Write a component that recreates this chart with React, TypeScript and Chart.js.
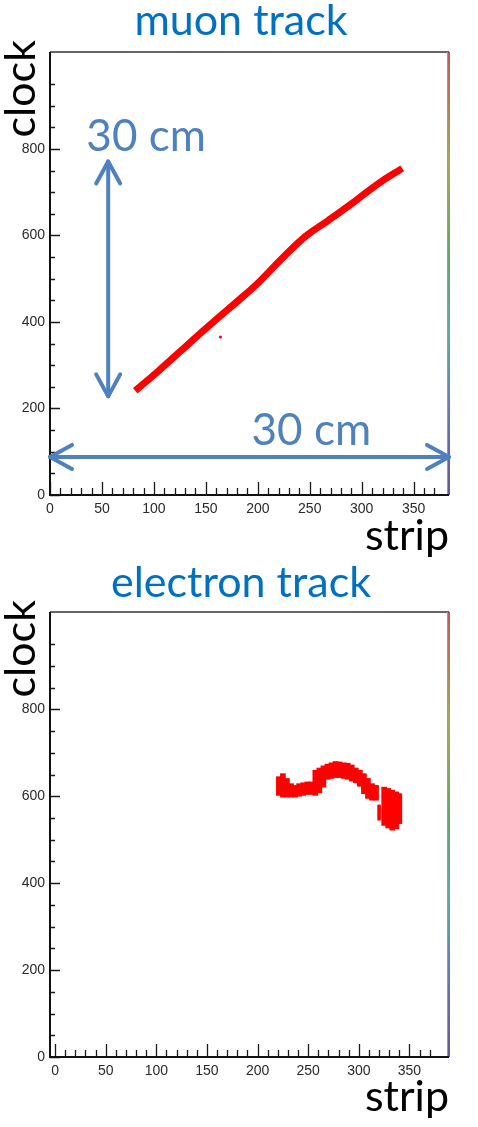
import React, { useEffect, useRef } from 'react';
import { Chart, registerables } from 'chart.js';

Chart.register(...registerables);

// ---- axis ranges and tick steps ----
const STRIP_MIN = 0;
const STRIP_MAX = 384;
const CLOCK_MIN = 0;
const CLOCK_MAX = 1024;
const STRIP_TICK_STEP = 10;
const STRIP_LABEL_STEP = 50;
const CLOCK_TICK_STEP = 50;
const CLOCK_LABEL_STEP = 200;
const CLOCK_LABEL_MAX = 800;
const X_TITLE = 'strip';
const Y_TITLE = 'clock';

// ---- muon track ----
const muonStrip = [82, 104, 124, 143, 162, 181, 201, 223, 246, 268, 294, 316, 339];
const muonClock = [241, 286, 329, 370, 410, 449, 492, 546, 598, 635, 680, 720, 755];
const muonStrayStrip = [164];
const muonStrayClock = [365];

// ---- electron track (strip bins with clock ranges) ----
const electronStrip = [221, 225, 229, 233, 237, 241, 245, 249, 253, 257, 261, 265, 269, 273, 277, 281, 285, 289, 293, 297, 301, 305, 309, 313, 317, 325, 329, 333, 337, 340];
const electronLow = [602, 598, 598, 598, 598, 600, 602, 604, 604, 602, 608, 621, 639, 641, 643, 643, 641, 639, 635, 631, 623, 606, 595, 591, 591, 533, 527, 522, 525, 537];
const electronHigh = [645, 652, 641, 629, 625, 629, 631, 633, 633, 660, 665, 670, 674, 677, 680, 679, 677, 676, 672, 665, 660, 652, 641, 629, 625, 621, 618, 614, 610, 606];
const electronFragStrip = [320];
const electronFragLow = [545];
const electronFragHigh = [580];

// ---- annotations on the muon panel (data units) ----
const arrowStrip = [
  [56, 56],
  [STRIP_MIN, STRIP_MAX],
];
const arrowClock = [
  [228, 771],
  [88, 88],
];
const spanLabelText = ['30 cm', '30 cm'];
const spanLabelStrip = [35, 194];
const spanLabelClock = [795, 116];

const TRACK_RED = '#FF0000';
const ARROW_BLUE = '#4F81BD';
const TITLE_BLUE = '#0070C0';
const BIG_FONT = 'Lato';
const BIG_SIZE = 43;

const rootAxesPlugin = {
  id: 'rootAxes',
  afterDatasetsDraw(chart: any) {
    const { ctx, chartArea, scales } = chart;
    const { left, right, top, bottom } = chartArea;
    const x = scales.x;
    const y = scales.y;
    ctx.save();
    ctx.strokeStyle = '#1a1a1a';
    ctx.lineWidth = 1.3;
    ctx.beginPath();
    for (const t of x.ticks) {
      if (t.value % STRIP_TICK_STEP !== 0) continue;
      const px = Math.round(x.getPixelForValue(t.value)) + 0.5;
      const len = t.value % STRIP_LABEL_STEP === 0 ? 13 : 7;
      ctx.moveTo(px, bottom);
      ctx.lineTo(px, bottom - len);
    }
    for (const t of y.ticks) {
      if (t.value % CLOCK_TICK_STEP !== 0) continue;
      const py = Math.round(y.getPixelForValue(t.value)) + 0.5;
      const len = t.value % CLOCK_LABEL_STEP === 0 ? 10 : 5;
      ctx.moveTo(left, py);
      ctx.lineTo(left + len, py);
    }
    ctx.stroke();

    ctx.strokeStyle = '#333';
    ctx.lineWidth = 1.5;
    ctx.beginPath();
    ctx.moveTo(left, top);
    ctx.lineTo(right, top);
    ctx.stroke();
    ctx.strokeStyle = '#999';
    ctx.lineWidth = 1;
    ctx.beginPath();
    ctx.moveTo(right - 1.5, top);
    ctx.lineTo(right - 1.5, bottom);
    ctx.stroke();
    ctx.strokeStyle = '#111';
    ctx.lineWidth = 2;
    ctx.beginPath();
    ctx.moveTo(left, top);
    ctx.lineTo(left, bottom);
    ctx.lineTo(right, bottom);
    ctx.stroke();
    const g = ctx.createLinearGradient(0, top, 0, bottom);
    g.addColorStop(0, '#B02020');
    g.addColorStop(0.25, '#8A8A20');
    g.addColorStop(0.45, '#2E8B2E');
    g.addColorStop(0.65, '#2A8A8A');
    g.addColorStop(0.85, '#3040A0');
    g.addColorStop(1, '#302070');
    ctx.strokeStyle = g;
    ctx.lineWidth = 1.5;
    ctx.beginPath();
    ctx.moveTo(right, top);
    ctx.lineTo(right, bottom);
    ctx.stroke();

    // vertical axis title, rotated, ending a little above the frame
    ctx.fillStyle = '#000';
    ctx.font = `${BIG_SIZE}px ${BIG_FONT}`;
    ctx.textAlign = 'right';
    ctx.textBaseline = 'middle';
    ctx.translate(scales.y.left + BIG_SIZE / 2, top - 12);
    ctx.rotate(-Math.PI / 2);
    ctx.fillText(Y_TITLE, 0, 0);
    ctx.restore();
  },
};

function drawHead(ctx: CanvasRenderingContext2D, tx: number, ty: number, ux: number, uy: number) {
  const L = 22;
  const W = 12;
  const nx = -uy;
  const ny = ux;
  ctx.beginPath();
  ctx.moveTo(tx + ux * L + nx * W, ty + uy * L + ny * W);
  ctx.lineTo(tx, ty);
  ctx.lineTo(tx + ux * L - nx * W, ty + uy * L - ny * W);
  ctx.stroke();
}

const spanAnnotationPlugin = {
  id: 'spanAnnotations',
  afterDatasetsDraw(chart: any) {
    const { ctx, scales } = chart;
    const x = scales.x;
    const y = scales.y;
    ctx.save();
    ctx.strokeStyle = ARROW_BLUE;
    ctx.fillStyle = ARROW_BLUE;
    ctx.lineWidth = 4;
    ctx.lineCap = 'round';
    ctx.lineJoin = 'round';
    for (let i = 0; i < arrowStrip.length; i++) {
      const x0 = x.getPixelForValue(arrowStrip[i][0]);
      const x1 = x.getPixelForValue(arrowStrip[i][1]);
      const y0 = y.getPixelForValue(arrowClock[i][0]);
      const y1 = y.getPixelForValue(arrowClock[i][1]);
      const len = Math.hypot(x1 - x0, y1 - y0);
      const ux = (x1 - x0) / len;
      const uy = (y1 - y0) / len;
      ctx.beginPath();
      ctx.moveTo(x0, y0);
      ctx.lineTo(x1, y1);
      ctx.stroke();
      drawHead(ctx, x0, y0, ux, uy);
      drawHead(ctx, x1, y1, -ux, -uy);
    }
    ctx.font = `44px ${BIG_FONT}`;
    ctx.textAlign = 'left';
    ctx.textBaseline = 'alphabetic';
    for (let i = 0; i < spanLabelText.length; i++) {
      ctx.fillText(
        spanLabelText[i],
        x.getPixelForValue(spanLabelStrip[i]),
        y.getPixelForValue(spanLabelClock[i])
      );
    }
    ctx.restore();
  },
};

function makeOptions(
  title: string,
  xScaleHeight: number,
  titlePad: { top: number; bottom: number },
  stripPadBottom: number
) {
  return {
    animation: false,
    responsive: false,
    maintainAspectRatio: false,
    layout: { padding: 0 },
    plugins: {
      legend: { display: false },
      tooltip: { enabled: false },
      title: {
        display: true,
        text: title,
        color: TITLE_BLUE,
        align: 'center',
        font: { family: BIG_FONT, size: BIG_SIZE, lineHeight: 1, weight: 'normal' },
        padding: titlePad,
      },
    },
    scales: {
      x: {
        type: 'linear',
        position: 'bottom',
        min: STRIP_MIN,
        max: STRIP_MAX,
        grid: { display: false, drawTicks: false },
        border: { display: false },
        ticks: {
          stepSize: STRIP_TICK_STEP,
          autoSkip: false,
          maxRotation: 0,
          minRotation: 0,
          padding: 6,
          color: '#2a2a2a',
          font: { family: 'Liberation Sans', size: 14 },
          callback: (v: number) => (v % STRIP_LABEL_STEP === 0 ? String(v) : ''),
        },
        title: {
          display: true,
          text: X_TITLE,
          align: 'end',
          color: '#000',
          font: { family: BIG_FONT, size: BIG_SIZE, lineHeight: 1 },
          padding: { top: 0, bottom: stripPadBottom },
        },
        afterFit: (s: any) => {
          s.height = xScaleHeight;
        },
      },
      y: {
        type: 'linear',
        position: 'left',
        min: CLOCK_MIN,
        max: CLOCK_MAX,
        grid: { display: false, drawTicks: false },
        border: { display: false },
        ticks: {
          stepSize: CLOCK_TICK_STEP,
          autoSkip: false,
          padding: 5,
          color: '#2a2a2a',
          font: { family: 'Liberation Sans', size: 14 },
          callback: (v: number) =>
            v % CLOCK_LABEL_STEP === 0 && v <= CLOCK_LABEL_MAX ? String(v) : '',
        },
        title: { display: false, text: Y_TITLE },
        afterFit: (s: any) => {
          s.width = 50;
        },
      },
      yR: {
        type: 'linear',
        position: 'right',
        display: true,
        grid: { display: false, drawTicks: false },
        border: { display: false },
        ticks: { display: false },
        afterFit: (s: any) => {
          s.width = 33;
        },
      },
    },
  };
}

export default function App() {
  const muonRef = useRef<HTMLCanvasElement | null>(null);
  const elecRef = useRef<HTMLCanvasElement | null>(null);

  useEffect(() => {
    const muonData = muonStrip.map((s, i) => ({ x: s, y: muonClock[i] }));
    const strayData = muonStrayStrip.map((s, i) => ({ x: s, y: muonStrayClock[i] }));
    const muonChart = new Chart(muonRef.current as HTMLCanvasElement, {
      type: 'scatter',
      data: {
        datasets: [
          {
            label: 'muon track',
            data: muonData,
            showLine: true,
            borderColor: TRACK_RED,
            backgroundColor: TRACK_RED,
            borderWidth: 7,
            borderCapStyle: 'butt',
            borderJoinStyle: 'round',
            pointRadius: 0,
            tension: 0.4,
          },
          {
            label: 'stray hit',
            data: strayData,
            showLine: false,
            backgroundColor: TRACK_RED,
            borderWidth: 0,
            pointRadius: 1.5,
          },
        ],
      } as any,
      options: makeOptions('muon track', 65, { top: 0, bottom: 9 }, 2) as any,
      plugins: [rootAxesPlugin, spanAnnotationPlugin],
    });

    const elecData = electronStrip.map((s, i) => ({ x: s, y: [electronLow[i], electronHigh[i]] }));
    const fragData = electronFragStrip.map((s, i) => ({ x: s, y: [electronFragLow[i], electronFragHigh[i]] }));
    const elecChart = new Chart(elecRef.current as HTMLCanvasElement, {
      type: 'bar',
      data: {
        datasets: [
          {
            label: 'electron track',
            data: elecData,
            backgroundColor: TRACK_RED,
            borderWidth: 0,
            barThickness: 5,
            grouped: false,
          },
          {
            label: 'electron fragment',
            data: fragData,
            backgroundColor: TRACK_RED,
            borderWidth: 0,
            barThickness: 3,
            grouped: false,
          },
        ],
      } as any,
      options: makeOptions('electron track', 70, { top: 2, bottom: 7 }, 8) as any,
      plugins: [rootAxesPlugin],
    });

    return () => {
      muonChart.destroy();
      elecChart.destroy();
    };
  }, []);

  return (
    <div
      style={{
        position: 'absolute',
        left: 0,
        top: 0,
        width: 478,
        height: 1127,
        overflow: 'hidden',
        background: '#fff',
      }}
    >
      <div style={{ position: 'absolute', left: 0, top: 0, width: 482, height: 560 }}>
        <canvas ref={muonRef} width={482} height={560} style={{ width: 482, height: 560, display: 'block' }} />
      </div>
      <div style={{ position: 'absolute', left: 0, top: 560, width: 482, height: 567 }}>
        <canvas ref={elecRef} width={482} height={567} style={{ width: 482, height: 567, display: 'block' }} />
      </div>
    </div>
  );
}
